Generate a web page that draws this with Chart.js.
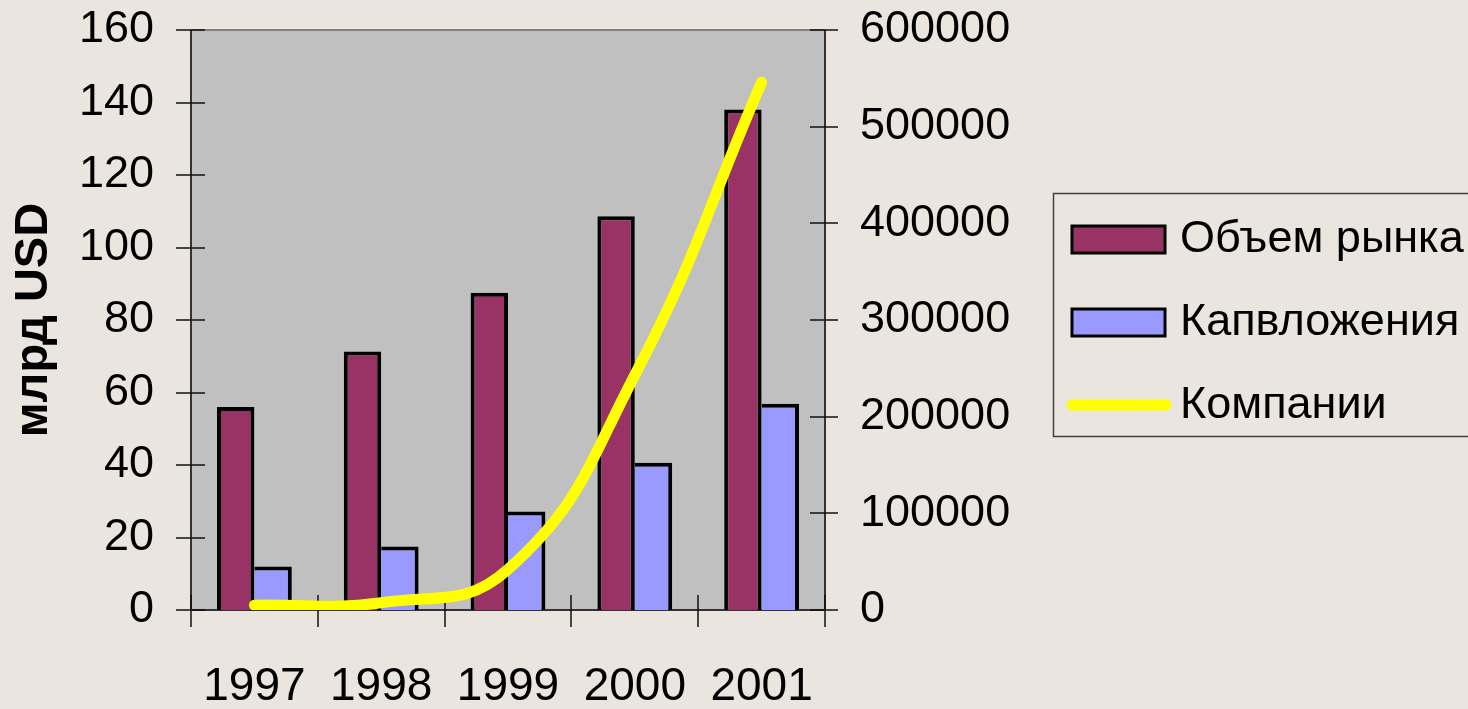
<!DOCTYPE html>
<html>
<head>
<meta charset="utf-8">
<script src="https://cdn.jsdelivr.net/npm/chart.js@4"></script>
<style>
  html, body { margin: 0; padding: 0; background: #EAE6DF; overflow: hidden; }
  #myChart { display: block; }
</style>
</head>
<body>
<canvas id="myChart" width="1468" height="709"></canvas>
<script>
const years = ["1997", "1998", "1999", "2000", "2001"];

const marketVolume = [56, 71.3, 87.5, 108.6, 138.1];
const capex = [12, 17.5, 27.2, 40.6, 56.9];
const companies = [5000, 7500, 42000, 243000, 546000];

const leftTicks = [0, 20, 40, 60, 80, 100, 120, 140, 160];
const rightTicks = [0, 100000, 200000, 300000, 400000, 500000, 600000];

const FONT = "'Liberation Sans', Arial, sans-serif";

// keep the plot box where the original has it
function fixSize(size, key) {
  return (scale) => {
    scale[key] = size;
    scale.paddingTop = 0;
    scale.paddingBottom = 0;
    scale.paddingLeft = 0;
    scale.paddingRight = 0;
  };
}

// gray plot area, axes and the tick marks that cross them
const frame = {
  id: "frame",
  beforeDraw(chart) {
    const { ctx, chartArea: a } = chart;
    ctx.save();
    ctx.fillStyle = "#C0C0C0";
    ctx.fillRect(a.left, a.top, a.right - a.left, a.bottom - a.top);
    ctx.restore();
  },
  beforeDatasetsDraw(chart) {
    const { ctx, chartArea: a, scales } = chart;
    ctx.save();
    ctx.lineWidth = 2;
    ctx.strokeStyle = "#808080";
    ctx.beginPath();
    ctx.moveTo(a.left, a.top);
    ctx.lineTo(a.right, a.top);
    ctx.stroke();

    ctx.strokeStyle = "#333333";
    ctx.beginPath();
    ctx.moveTo(a.left, a.top);
    ctx.lineTo(a.left, a.bottom);
    ctx.moveTo(a.right, a.top);
    ctx.lineTo(a.right, a.bottom);
    ctx.moveTo(a.left, a.bottom);
    ctx.lineTo(a.right, a.bottom);
    ctx.stroke();

    ctx.lineWidth = 1.5;
    ctx.strokeStyle = "#111111";
    ctx.beginPath();
    scales.y.ticks.forEach((t, i) => {
      const y = Math.round(scales.y.getPixelForTick(i));
      ctx.moveTo(a.left - 15, y);
      ctx.lineTo(a.left + 14, y);
    });
    scales.y1.ticks.forEach((t, i) => {
      const y = Math.round(scales.y1.getPixelForTick(i));
      ctx.moveTo(a.right - 15, y);
      ctx.lineTo(a.right + 13, y);
    });
    for (let i = 0; i <= years.length; i++) {
      const x = Math.round(scales.x.getPixelForValue(i - 0.5));
      ctx.moveTo(x, a.bottom - 15);
      ctx.lineTo(x, a.bottom + 17);
    }
    ctx.stroke();
    ctx.restore();
  },
};

// boxed legend to the right like the original
const legendBox = {
  id: "legendBox",
  afterDraw(chart) {
    const { ctx } = chart;
    const left = 1053;
    const top = 193;
    const rowTop = 239;
    const rowGap = 83;
    ctx.save();
    ctx.lineWidth = 1.5;
    ctx.strokeStyle = "#404040";
    ctx.strokeRect(left + 0.5, top + 0.5, 440, 243);

    chart.data.datasets.forEach((ds, i) => {
      const cy = rowTop + i * rowGap;
      if (ds.type === "line") {
        ctx.strokeStyle = ds.borderColor;
        ctx.lineWidth = 11;
        ctx.lineCap = "round";
        ctx.beginPath();
        ctx.moveTo(1072, cy);
        ctx.lineTo(1166, cy);
        ctx.stroke();
      } else {
        ctx.fillStyle = ds.backgroundColor;
        ctx.fillRect(1072, cy - 13, 93, 27);
        ctx.lineWidth = 3;
        ctx.strokeStyle = "#000000";
        ctx.strokeRect(1072, cy - 13, 93, 27);
      }
      ctx.fillStyle = "#000000";
      ctx.font = "45px " + FONT;
      ctx.textAlign = "left";
      ctx.textBaseline = "middle";
      ctx.fillText(ds.label, 1180, cy + 1);
    });
    ctx.restore();
  },
};

function createChart() {
  const ctx = document.getElementById("myChart").getContext("2d");

  return new Chart(ctx, {
    data: {
      labels: years,
      datasets: [
        {
          type: "bar",
          label: "Объем рынка",
          data: marketVolume,
          backgroundColor: "#993366",
          borderColor: "#000000",
          borderWidth: { top: 4, left: 4, right: 4, bottom: 0 },
          borderSkipped: false,
          yAxisID: "y",
          order: 1,
        },
        {
          type: "bar",
          label: "Капвложения",
          data: capex,
          backgroundColor: "#9999FF",
          borderColor: "#000000",
          borderWidth: { top: 4, left: 0, right: 4, bottom: 0 },
          borderSkipped: false,
          yAxisID: "y",
          order: 1,
        },
        {
          type: "line",
          label: "Компании",
          data: companies,
          borderColor: "#FFFF00",
          backgroundColor: "#FFFF00",
          borderWidth: 11,
          borderCapStyle: "round",
          borderJoinStyle: "round",
          tension: 0.45,
          pointRadius: 0,
          pointHoverRadius: 0,
          yAxisID: "y1",
          order: 0,
        },
      ],
    },
    options: {
      responsive: false,
      animation: false,
      devicePixelRatio: 1,
      layout: { padding: { top: 30, left: 0, right: 0, bottom: 0 } },
      datasets: {
        bar: { categoryPercentage: 0.59, barPercentage: 1 },
      },
      plugins: {
        legend: { display: false },
        tooltip: { enabled: false },
      },
      scales: {
        x: {
          type: "category",
          grid: { display: false, drawTicks: false },
          border: { display: false },
          ticks: {
            color: "#000000",
            padding: 50,
            maxRotation: 0,
            font: { family: FONT, size: 46 },
          },
          afterFit: fixSize(99, "height"),
        },
        y: {
          position: "left",
          min: 0,
          max: 160,
          afterBuildTicks: (scale) => { scale.ticks = leftTicks.map((v) => ({ value: v })); },
          grid: { display: false, drawTicks: false },
          border: { display: false },
          ticks: {
            color: "#000000",
            padding: 37,
            font: { family: FONT, size: 45 },
          },
          title: {
            display: true,
            text: "млрд USD",
            color: "#000000",
            padding: { top: 6, bottom: 0 },
            font: { family: FONT, size: 47, weight: "bold" },
          },
          afterFit: fixSize(191, "width"),
        },
        y1: {
          position: "right",
          min: 0,
          max: 600000,
          afterBuildTicks: (scale) => { scale.ticks = rightTicks.map((v) => ({ value: v })); },
          grid: { display: false, drawTicks: false },
          border: { display: false },
          ticks: {
            color: "#000000",
            padding: 35,
            font: { family: FONT, size: 45 },
            callback: (v) => String(v),
          },
          afterFit: fixSize(643, "width"),
        },
      },
    },
    plugins: [frame, legendBox],
  });
}

createChart();
</script>
</body>
</html>
